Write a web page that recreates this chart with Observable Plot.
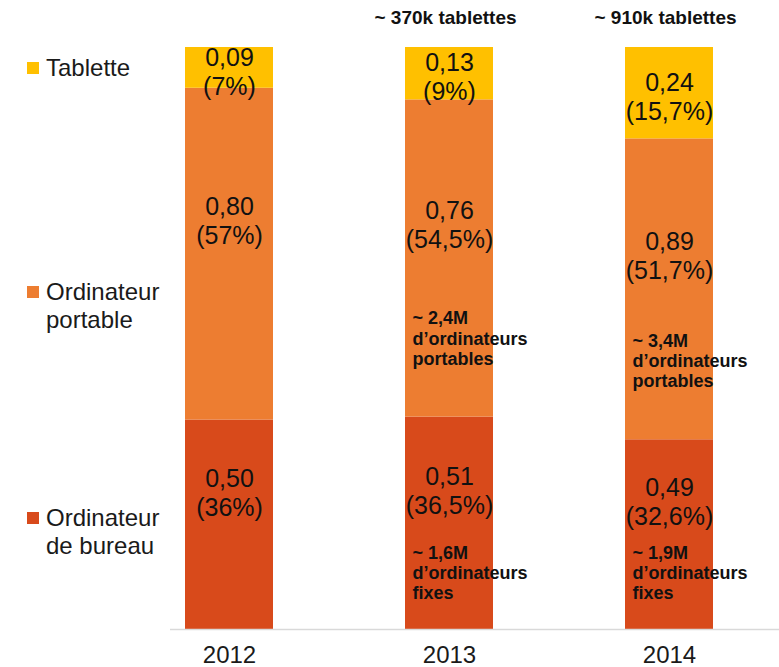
<!DOCTYPE html>
<html>
<head>
<meta charset="utf-8">
<script src="https://cdn.jsdelivr.net/npm/d3@7"></script>
<script src="https://cdn.jsdelivr.net/npm/@observablehq/plot@0.6"></script>
<style>
  body { margin: 0; background: #fff; font-family: Arial, "Liberation Sans", sans-serif; }
  #wrap { position: relative; width: 779px; height: 667px; }
  #legend { position: absolute; left: 0; top: 0; width: 170px; height: 667px; }
  .item { position: absolute; left: 27px; font-size: 24px; line-height: 28px; color: #1a1a1a; }
  .sw { position: absolute; left: 0; top: 8px; width: 12px; height: 12px; }
  .lbl { position: absolute; left: 19px; top: 0; white-space: nowrap; }
</style>
</head>
<body>
<div id="wrap"><div id="legend"></div></div>
<script>
// ---- data ----
const years = ["2012", "2013", "2014"];
const seriesKeys = ["bureau", "portable", "tablette"];
const seriesNames = ["Ordinateur de bureau", "Ordinateur portable", "Tablette"];
const seriesColors = ["#D84A1B", "#ED7D31", "#FFC000"];

const bureauValue = [0.50, 0.51, 0.49];
const bureauPct = [36, 36.5, 32.6];
const portableValue = [0.80, 0.76, 0.89];
const portablePct = [57, 54.5, 51.7];
const tabletteValue = [0.09, 0.13, 0.24];
const tablettePct = [7, 9, 15.7];

const tabletteNotes = ["", "~ 370k tablettes", "~ 910k tablettes"];
const portableNotes = ["", "~ 2,4M\nd’ordinateurs\nportables", "~ 3,4M\nd’ordinateurs\nportables"];
const bureauNotes = ["", "~ 1,6M\nd’ordinateurs\nfixes", "~ 1,9M\nd’ordinateurs\nfixes"];

// ---- table ----
const fr = v => v.toFixed(2).replace(".", ",");
const frPct = p => String(p).replace(".", ",") + "%";
const rows = [];
years.forEach((yr, i) => {
  rows.push({year: yr, key: "bureau", value: bureauValue[i], pct: bureauPct[i], note: bureauNotes[i]});
  rows.push({year: yr, key: "portable", value: portableValue[i], pct: portablePct[i], note: portableNotes[i]});
  rows.push({year: yr, key: "tablette", value: tabletteValue[i], pct: tablettePct[i], note: tabletteNotes[i]});
});
const label = k => d => d.key === k ? `${fr(d.value)}\n(${frPct(d.pct)})` : "";
const noteOf = k => d => d.key === k ? d.note : "";

const FONT = "Arial, 'Liberation Sans', sans-serif";
const valueStyle = {fontSize: 25, lineHeight: 1.16, fill: "#111", lineAnchor: "middle"};
const noteStyle = {fontSize: 18, lineHeight: 1.12, fontWeight: "bold", fill: "#111", lineAnchor: "middle"};

const chart = Plot.plot({
  width: 779,
  height: 667,
  marginTop: 47,
  marginBottom: 38,
  marginLeft: 170,
  marginRight: 0,
  style: {fontFamily: FONT, color: "#1a1a1a", background: "#fff"},
  x: {domain: years, paddingInner: 0.6, paddingOuter: 0.181, align: 0.188, label: null},
  y: {domain: [0, 100], axis: null},
  color: {domain: seriesKeys, range: seriesColors},
  marks: [
    Plot.barY(rows, Plot.stackY({x: "year", y: "pct", fill: "key", order: null})),
    Plot.ruleY([0], {stroke: "#d9d9d9", strokeWidth: 1.5}),
    Plot.axisX({tickSize: 0, tickPadding: 16, fontSize: 24, fill: "#1a1a1a", label: null}),
    // value labels
    Plot.text(rows, Plot.stackY({x: "year", y: "pct", order: null, text: label("tablette"), ...valueStyle, dy: 3})),
    Plot.text(rows, Plot.stackY({x: "year", y: "pct", order: null, text: label("portable"), ...valueStyle, dy: -34})),
    Plot.text(rows, Plot.stackY({x: "year", y: "pct", order: null, text: label("bureau"), ...valueStyle, dy: -33})),
    // annotations
    Plot.text(rows, {x: "year", text: noteOf("tablette"), frameAnchor: "top", dy: -30, dx: -4, fontSize: 19, fontWeight: "bold", fill: "#111", lineAnchor: "middle"}),
    Plot.text(rows, Plot.stackY1({x: "year", y: "pct", order: null, text: noteOf("portable"), textAnchor: "start", dx: -37, dy: -79, ...noteStyle})),
    Plot.text(rows, {x: "year", text: noteOf("bureau"), frameAnchor: "bottom", textAnchor: "start", dx: -37, dy: -57, ...noteStyle})
  ]
});
document.getElementById("wrap").appendChild(chart);

// ---- legend (HTML) ----
const legendTops = {tablette: 54, portable: 278, bureau: 504};
const legend = document.getElementById("legend");
seriesKeys.slice().reverse().forEach(k => {
  const i = seriesKeys.indexOf(k);
  const words = seriesNames[i].split(" ");
  const text = words.length > 1 ? words[0] + "<br>" + words.slice(1).join(" ") : words[0];
  const div = document.createElement("div");
  div.className = "item";
  div.style.top = legendTops[k] + "px";
  div.innerHTML = `<div class="sw" style="background:${seriesColors[i]}"></div><div class="lbl">${text}</div>`;
  legend.appendChild(div);
});
</script>
</body>
</html>
